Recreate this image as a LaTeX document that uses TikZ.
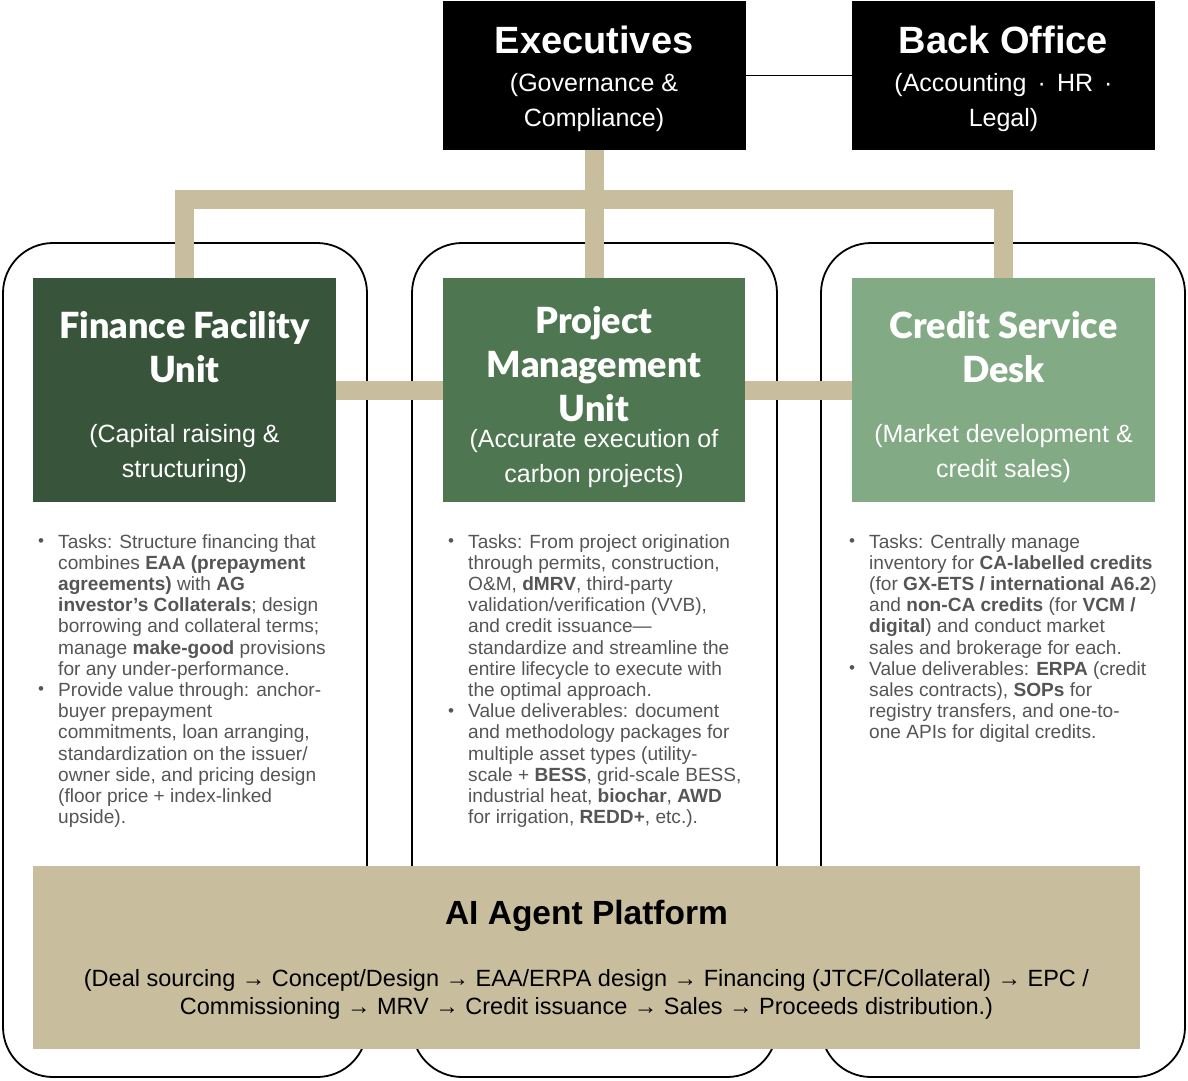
\documentclass[tikz,border=0pt]{standalone}
\usepackage{fontspec}
\setmainfont{Liberation Sans}
\newfontfamily\heavyfont{Lato Black}
\definecolor{tanc}{HTML}{C8BE9E}
\definecolor{gfin}{HTML}{38553B}
\definecolor{gpmu}{HTML}{4E7650}
\definecolor{gcsd}{HTML}{82AA84}
\definecolor{bodyc}{HTML}{555555}
\newcommand{\mybullet}{\llap{\makebox[20pt][l]{\raisebox{1.5pt}{\fontsize{17}{17}\selectfont •}}}}
\begin{document}
\begin{tikzpicture}[x=1pt,y=-1pt,
  panel/.style={draw=black, line width=1.8pt, rounded corners=50pt, fill=white, inner sep=0, outer sep=0, minimum height=834pt},
  hbox/.style={inner sep=0, outer sep=0, minimum width=303pt, minimum height=224pt},
  topbox/.style={fill=black, inner sep=0, outer sep=0, minimum width=303pt, minimum height=149pt},
  conn/.style={draw=tanc, line width=19pt},
  thin/.style={draw=black, line width=1.8pt},
  htitle/.style={text=white, align=center, inner sep=0, font=\heavyfont\fontsize{36}{44}\selectfont},
  hsub/.style={text=white, align=center, inner sep=0, font=\fontsize{25}{35}\selectfont},
  ttitle/.style={text=white, align=center, inner sep=0, font=\bfseries\fontsize{38}{44}\selectfont},
  body/.style={anchor=north west, align=left, text=bodyc, inner sep=0, font=\fontsize{19.1}{21.2}\selectfont}
]
\useasboundingbox (0,0) rectangle (1188,1080);

% panels
\node[panel, minimum width=364pt] (p1) at (185,660) {};
\node[panel, minimum width=365pt] (p2) at (594.5,660) {};
\node[panel, minimum width=364pt] (p3) at (1003,660) {};

% platform
\node[fill=tanc, inner sep=0, outer sep=0, minimum width=1107pt, minimum height=183pt] (plat) at (586.5,957.5) {};
\node[inner sep=0, font=\bfseries\fontsize{33.5}{36}\selectfont] (platT) at (586.5,916) {AI Agent Platform};
\node[inner sep=0, align=center, font=\fontsize{23.5}{28}\selectfont] (platS) at (586.5,994)
  {(Deal sourcing → Concept/Design → EAA/ERPA design → Financing (JTCF/Collateral) → EPC /\\
   Commissioning → MRV → Credit issuance → Sales → Proceeds distribution.)};

% top boxes
\node[topbox] (exe) at (594,75.5) {};
\node[topbox] (bo) at (1003.5,75.5) {};
\draw[thin] (exe.east) -- (bo.west);
\node[ttitle] (boT) at (1003.5,40) {Back Office};
\node[hsub] (boS) at (1003.5,102.5) {(Accounting \,·\, HR \,·\\Legal)};

% header boxes
\node[hbox, fill=gfin] (ffu) at (184.5,390) {};
\node[hbox, fill=gpmu, minimum width=302pt] (pmu) at (594,390) {};
\node[hbox, fill=gcsd] (csd) at (1003.5,390) {};

% connectors
\draw[conn] (exe.south) -- (pmu.north);
\draw[conn] (ffu.north) -- (ffu.north |- 0,199) -- (csd.north |- 0,199) -- (csd.north);
\draw[conn] (ffu.east) -- (pmu.west);
\draw[conn] (pmu.east) -- (csd.west);
% boxes again on top of connector ends
\node[hbox, fill=gfin] (ffu2) at (184.5,390) {};
\node[hbox, fill=gpmu, minimum width=302pt] (pmu2) at (594,390) {};
\node[hbox, fill=gcsd] (csd2) at (1003.5,390) {};
\node[topbox] (exe2) at (594,75.5) {};

\node[ttitle] (exeT) at (594,40) {Executives};
\node[hsub] (exeS) at (594,102.5) {(Governance \&\\Compliance)};

% header texts
\node[htitle] (ffuT) at (184.5,347) {Finance Facility\\Unit};
\node[hsub] (ffuS) at (184.5,453.5) {(Capital raising \&\\structuring)};
\node[htitle] (pmuT) at (594,364) {Project\\Management\\Unit};
\node[hsub] (pmuS) at (594,458.5) {(Accurate execution of\\carbon projects)};
\node[htitle] (csdT) at (1003.5,347) {Credit Service\\Desk};
\node[hsub] (csdS) at (1003.5,453.5) {(Market development \&\\credit sales)};

% body texts
\node[body] (ffuB) at (58,534) {\mybullet Tasks: Structure financing that\\
combines \textbf{EAA (prepayment}\\
\textbf{agreements)} with \textbf{AG}\\
\textbf{investor’s Collaterals}; design\\
borrowing and collateral terms;\\
manage \textbf{make-good} provisions\\
for any under-performance.\\
\mybullet Provide value through: anchor-\\
buyer prepayment\\
commitments, loan arranging,\\
standardization on the issuer/\\
owner side, and pricing design\\
(floor price + index-linked\\
upside).};

\node[body] (pmuB) at (468,534) {\mybullet Tasks: From project origination\\
through permits, construction,\\
O\&M, \textbf{dMRV}, third-party\\
validation/verification (VVB),\\
and credit issuance—\\
standardize and streamline the\\
entire lifecycle to execute with\\
the optimal approach.\\
\mybullet Value deliverables: document\\
and methodology packages for\\
multiple asset types (utility-\\
scale + \textbf{BESS}, grid-scale BESS,\\
industrial heat, \textbf{biochar}, \textbf{AWD}\\
for irrigation, \textbf{REDD+}, etc.).};

\node[body] (csdB) at (869,534) {\mybullet Tasks: Centrally manage\\
inventory for \textbf{CA-labelled credits}\\
(for \textbf{GX-ETS / international A6.2})\\
and \textbf{non-CA credits} (for \textbf{VCM /}\\
\textbf{digital}) and conduct market\\
sales and brokerage for each.\\
\mybullet Value deliverables: \textbf{ERPA} (credit\\
sales contracts), \textbf{SOPs} for\\
registry transfers, and one-to-\\
one APIs for digital credits.};
\end{tikzpicture}
\end{document}
